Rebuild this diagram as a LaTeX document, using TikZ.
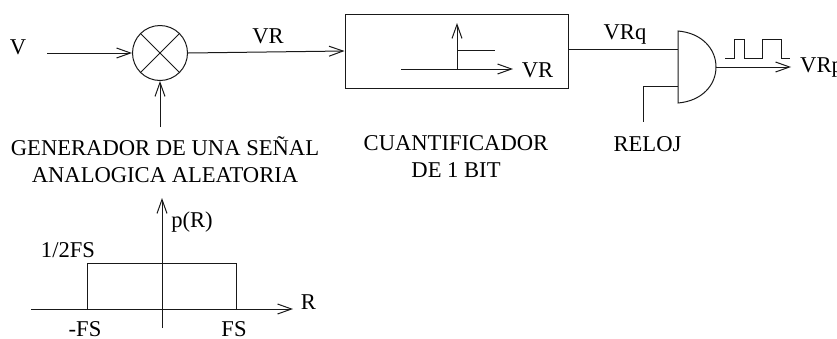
\documentclass[tikz,border=0pt]{standalone}
\usepackage{fontspec}
\setmainfont{Liberation Serif}
\usetikzlibrary{arrows.meta}
\tikzset{
  wire/.style={line width=1pt,black!90},
  arrowwire/.style={wire,-{Straight Barb[length=14pt,width=10pt,line width=1pt]}},
  lbl/.style={font=\fontsize{22.6pt}{27pt}\selectfont,inner sep=0pt,align=center,black},
  thin wire/.style={line width=0.9pt,black!90}
}
\begin{document}
\begin{tikzpicture}[x=1pt,y=-1pt]
\clip (0,0) rectangle (837,338);
\useasboundingbox (0,0) rectangle (837,338);
% multiplier
\node[circle,draw,wire,minimum size=55pt,inner sep=0pt] (mix) at (160,53) {};
\draw[wire] (mix.45) -- (mix.225) (mix.135) -- (mix.315);
\coordinate (vin) at (47,53);
\coordinate (genin) at (160,127);
\draw[arrowwire] (vin) -- (mix.west |- vin);
\draw[arrowwire] (genin) -- (mix.south);
% quantizer
\node[draw,wire,minimum width=223pt,minimum height=74pt,inner sep=0pt] (quant) at (456.5,51) {};
\draw[arrowwire] (mix.east) -- (quant.west);
\coordinate (qaxisL) at (401,69);
\coordinate (qaxisR) at (513,69);
\coordinate (qaxisO) at (457,69);
\coordinate (qaxisT) at (457,23);
\coordinate (qstepO) at (457,50);
\coordinate (qstepE) at (495,50);
\draw[arrowwire] (qaxisL) -- (qaxisR);
\draw[arrowwire] (qaxisO) -- (qaxisT);
\draw[wire] (qstepO) -- (qstepE);
% AND gate
\coordinate (gTL) at (678,31);
\coordinate (gBL) at (678,103);
\coordinate (gTip) at (716,67);
\coordinate (gIn1) at (678,49);
\coordinate (gIn2) at (678,86);
\draw[wire] (gTL) -- (gBL) .. controls (702,101) and (716,85) .. (gTip)
  .. controls (716,49) and (702,33) .. (gTL) -- cycle;
\coordinate (qout) at (quant.east |- gIn1);
\draw[wire] (qout) -- (gIn1);
\coordinate (clkb) at (643,122);
\draw[wire] (gIn2) -| (clkb);
\coordinate (vrpend) at (791,67);
\draw[arrowwire] (gTip) -- (vrpend);
\draw[thin wire] (725,58) -- (734,58) -- (734,39) -- (744,39) -- (744,58) -- (762,58) -- (762,39) -- (781,39) -- (781,58) -- (790,58);
% graph
\coordinate (hL) at (31,309);
\coordinate (hR) at (293,309);
\coordinate (vB) at (162,328);
\coordinate (vT) at (162,198);
\draw[arrowwire] (hL) -- (hR);
\draw[arrowwire] (vB) -- (vT);
\coordinate (rA) at (87,309);
\coordinate (rB) at (87,263);
\coordinate (rC) at (236,263);
\coordinate (rD) at (236,309);
\draw[thin wire] (rA) -- (rB) -- (rC) -- (rD);
% labels
\node[lbl] (tV) at (18,47) {V};
\node[lbl] (tVR) at (268,36) {VR};
\node[lbl] (tVRin) at (537.5,70) {VR};
\node[lbl] (tVRq) at (625,35) {VRq};
\node[lbl,anchor=west] (tVRp) at (800,68) {VRp};
\node[lbl] (tGen) at (165,160) {GENERADOR DE UNA SEÑAL\\ANALOGICA ALEATORIA};
\node[lbl] (tCuant) at (456,157) {CUANTIFICADOR\\DE 1 BIT};
\node[lbl] (tReloj) at (647.5,144) {RELOJ};
\node[lbl] (tpR) at (192,222) {p(R)};
\node[lbl] (tFSt) at (68,250) {1/2FS};
\node[lbl] (tmFS) at (85,329.5) {-FS};
\node[lbl] (tFS) at (234,329.5) {FS};
\node[lbl] (tR) at (308.5,302) {R};
\end{tikzpicture}
\end{document}
